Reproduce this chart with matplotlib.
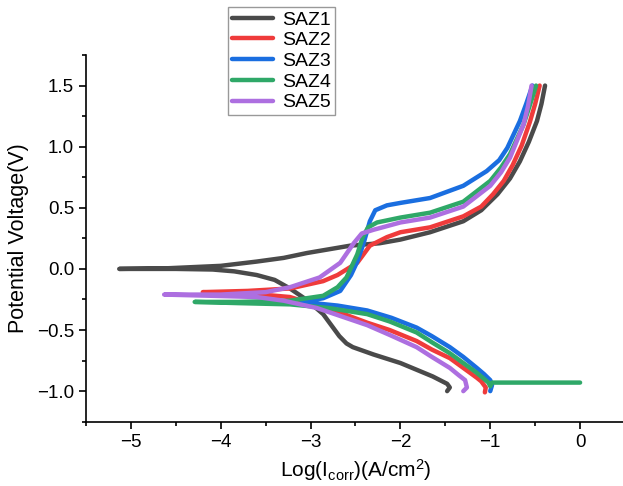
import matplotlib
matplotlib.use("Agg")
import matplotlib.pyplot as plt
from matplotlib.ticker import MultipleLocator

plt.rcParams['font.family'] = ['Liberation Sans', 'DejaVu Sans']
plt.rcParams['mathtext.default'] = 'regular'

labels = ["SAZ1", "SAZ2", "SAZ3", "SAZ4", "SAZ5"]
colors = ["#4a4a4a", "#ef3b3b", "#1a6ee0", "#2fa868", "#ad6fe0"]

saz1_x = [-1.48, -1.45, -1.48, -1.64, -2.0, -2.3, -2.53, -2.6, -2.68, -2.75, -2.86, -3.05, -3.23, -3.4, -3.6, -3.85, -4.09, -4.5, -5.13,
          -4.6, -4.0, -3.6, -3.3, -3.04, -2.8, -2.56, -2.23, -2.0, -1.67, -1.3, -1.1, -0.92, -0.78, -0.67, -0.57, -0.48, -0.43, -0.39]
saz1_y = [-1.0, -0.97, -0.94, -0.88, -0.77, -0.70, -0.64, -0.61, -0.55, -0.48, -0.37, -0.25, -0.16, -0.09, -0.05, -0.02, -0.005, 0.0, 0.0,
          0.005, 0.025, 0.06, 0.09, 0.13, 0.16, 0.19, 0.21, 0.24, 0.30, 0.39, 0.48, 0.61, 0.74, 0.88, 1.04, 1.21, 1.35, 1.5]

saz2_x = [-1.06, -1.05, -1.10, -1.15, -1.3, -1.45, -1.65, -1.82, -2.12, -2.37, -2.7, -3.23, -3.7, -4.2,
          -3.7, -3.23, -2.86, -2.7, -2.48, -2.34, -2.15, -2.0, -1.67, -1.3, -1.1, -0.97, -0.85, -0.75, -0.65, -0.56, -0.5, -0.45]
saz2_y = [-1.01, -0.97, -0.92, -0.89, -0.81, -0.73, -0.66, -0.59, -0.50, -0.44, -0.35, -0.23, -0.20, -0.19,
          -0.18, -0.16, -0.10, -0.05, 0.05, 0.19, 0.26, 0.30, 0.34, 0.43, 0.51, 0.61, 0.72, 0.85, 1.01, 1.2, 1.35, 1.5]

saz3_x = [-1.0, -0.98, -1.0, -1.07, -1.15, -1.3, -1.45, -1.65, -1.82, -2.1, -2.37, -2.7, -3.1,
          -2.86, -2.67, -2.55, -2.48, -2.41, -2.34, -2.28, -2.15, -2.0, -1.67, -1.3, -1.04, -0.9, -0.81, -0.67, -0.6, -0.53]
saz3_y = [-1.0, -0.95, -0.91, -0.86, -0.81, -0.72, -0.64, -0.55, -0.48, -0.40, -0.34, -0.30, -0.27,
          -0.24, -0.18, -0.05, 0.06, 0.21, 0.39, 0.48, 0.52, 0.54, 0.58, 0.68, 0.80, 0.89, 0.99, 1.21, 1.35, 1.5]

saz4_x = [0.0, -0.5, -0.98, -1.0, -1.02, -1.15, -1.3, -1.45, -1.65, -1.82, -2.12, -2.37, -2.8, -3.23, -3.8, -4.29,
          -3.8, -3.23, -2.86, -2.7, -2.6, -2.48, -2.42, -2.36, -2.26, -2.0, -1.67, -1.3, -1.0, -0.88, -0.78, -0.63, -0.55, -0.49]
saz4_y = [-0.93, -0.93, -0.93, -0.96, -0.93, -0.85, -0.77, -0.69, -0.60, -0.52, -0.43, -0.37, -0.32, -0.29, -0.28, -0.27,
          -0.27, -0.26, -0.22, -0.15, -0.07, 0.12, 0.26, 0.34, 0.38, 0.42, 0.46, 0.55, 0.72, 0.83, 0.94, 1.18, 1.36, 1.5]

saz5_x = [-1.30, -1.26, -1.28, -1.35, -1.45, -1.65, -1.82, -2.12, -2.37, -2.65, -2.93, -3.3, -3.6, -4.1, -4.63,
          -4.0, -3.5, -3.23, -2.9, -2.67, -2.52, -2.43, -2.3, -2.0, -1.67, -1.3, -1.0, -0.88, -0.78, -0.63, -0.58, -0.54]
saz5_y = [-1.0, -0.97, -0.91, -0.87, -0.81, -0.72, -0.64, -0.54, -0.46, -0.39, -0.32, -0.26, -0.23, -0.22, -0.21,
          -0.21, -0.19, -0.15, -0.07, 0.05, 0.21, 0.29, 0.32, 0.38, 0.42, 0.51, 0.68, 0.79, 0.91, 1.18, 1.33, 1.5]

series_x = [saz1_x, saz2_x, saz3_x, saz4_x, saz5_x]
series_y = [saz1_y, saz2_y, saz3_y, saz4_y, saz5_y]

fig = plt.figure(figsize=(6.23, 4.86), dpi=100)
ax = fig.add_axes([86 / 623, 1 - 421.7 / 486, 539 / 623, (421.7 - 55) / 486])

handles = []
for xs, ys, c, lab in zip(series_x, series_y, colors, labels):
    h, = ax.plot(xs, ys, color=c, lw=3.2, label=lab, solid_capstyle='round', solid_joinstyle='round')
    handles.append(h)

ax.set_xlim(-5.5, 0.5)
ax.set_ylim(-1.25, 1.75)
ax.xaxis.set_major_locator(MultipleLocator(1))
ax.xaxis.set_minor_locator(MultipleLocator(0.5))
ax.yaxis.set_major_locator(MultipleLocator(0.5))
ax.yaxis.set_minor_locator(MultipleLocator(0.25))
ax.tick_params(which='major', length=5, width=1.2, labelsize=13.5)
ax.tick_params(which='minor', length=3, width=1.2)
ax.spines['top'].set_visible(False)
ax.spines['right'].set_visible(False)
ax.spines['left'].set_linewidth(1.2)
ax.spines['bottom'].set_linewidth(1.2)

ax.set_xlabel("Log(I$_{corr}$)(A/cm$^{2}$)", fontsize=15, labelpad=5)
ax.set_ylabel("Potential Voltage(V)", fontsize=15.5, labelpad=6)

leg = fig.legend(handles=handles, loc='upper left', bbox_to_anchor=(228 / 623, 1 - 7 / 486),
                 fontsize=14, frameon=True, fancybox=False, framealpha=1, edgecolor='#999999',
                 handlelength=2.1, borderaxespad=0, labelspacing=0.16, borderpad=0.2, handletextpad=0.5)
leg.get_frame().set_linewidth(1.0)

fig.savefig("out.png", dpi=100)
